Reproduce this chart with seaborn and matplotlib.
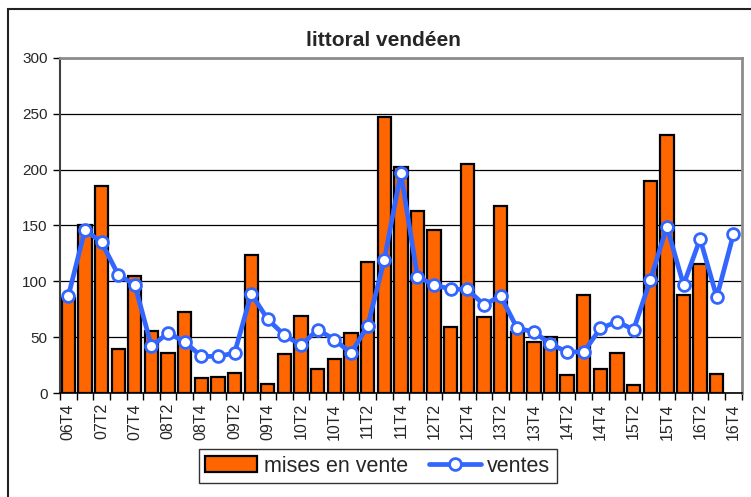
import numpy as np
import pandas as pd
import seaborn as sns
import matplotlib
matplotlib.use("Agg")
import matplotlib.pyplot as plt
from matplotlib.patches import Patch, Rectangle
from matplotlib.lines import Line2D

# quarters 06T4 .. 16T4
trimestres = ["06T4"] + [f"{y:02d}T{q}" for y in range(7, 17) for q in range(1, 5)]

mises_en_vente = [85, 150, 185, 40, 105, 56, 36, 73, 14, 15,
                  18, 124, 8, 35, 69, 22, 31, 54, 117, 247,
                  202, 163, 146, 59, 205, 68, 167, 55, 46, 50,
                  16, 88, 22, 36, 7, 190, 231, 88, 116, 17,
                  np.nan]

ventes = [87, 146, 135, 106, 97, 42, 54, 46, 33, 33,
          36, 89, 66, 52, 43, 57, 48, 36, 60, 119,
          197, 104, 97, 93, 93, 79, 87, 58, 55, 44,
          37, 37, 58, 64, 57, 101, 149, 97, 138, 86,
          142]

df = pd.DataFrame({"trimestre": trimestres,
                   "mises": mises_en_vente,
                   "ventes": ventes})
df["pos"] = df.index

sns.set_style("white")
plt.rcParams["font.family"] = ["Liberation Sans", "DejaVu Sans"]

W, H = 751, 497
fig = plt.figure(figsize=(W / 100, H / 100), dpi=100)
ax = fig.add_axes([60 / W, 1 - 393.3 / H, (741.7 - 60) / W, (393.3 - 57.7) / H])

# grid first so the bars sit on top
ax.set_axisbelow(True)
ax.yaxis.grid(True, color="black", linewidth=0.9)

orange = "#FF6600"
blue = "#3366FF"

sns.barplot(data=df, x="trimestre", y="mises", order=trimestres, color=orange,
            saturation=1, edgecolor="black", linewidth=1.6, width=0.8, ax=ax)
sns.lineplot(data=df, x="pos", y="ventes", color=blue, linewidth=3.4,
             marker="o", markersize=8.5, markerfacecolor="white",
             markeredgecolor=blue, markeredgewidth=2, ax=ax, zorder=5)

ax.set_xlim(-0.5, len(trimestres) - 0.5)
ax.set_ylim(0, 300)
ax.set_yticks(range(0, 301, 50))
ax.set_xlabel("")
ax.set_ylabel("")

ax.set_xticks(range(0, len(trimestres), 2))
ax.set_xticklabels(trimestres[::2], rotation=90)
ax.set_xticks(np.arange(-0.5, len(trimestres), 1), minor=True)
ax.tick_params(axis="x", which="major", length=0, pad=7, labelsize=11.5)
ax.tick_params(axis="x", which="minor", length=5, width=1, color="black",
               direction="out", bottom=True)
ax.tick_params(axis="y", length=5, width=1, color="black", direction="out",
               left=True, labelsize=11, pad=4)

for side in ["top", "right"]:
    ax.spines[side].set_color("#8c8c8c")
    ax.spines[side].set_linewidth(2)
ax.spines["left"].set_color("#404040")
ax.spines["left"].set_linewidth(1.5)
ax.spines["bottom"].set_color("black")
ax.spines["bottom"].set_linewidth(1.2)

fig.text(383 / W, 1 - 40 / H, "littoral vendéen", ha="center", va="center",
         fontsize=15, fontweight="bold")

handles = [Patch(facecolor=orange, edgecolor="black", linewidth=1.6),
           Line2D([0], [0], color=blue, linewidth=3.4, marker="o", markersize=8.5,
                  markerfacecolor="white", markeredgecolor=blue, markeredgewidth=2)]
leg = fig.legend(handles, ["mises en vente", "ventes"], loc="center",
                 bbox_to_anchor=(378 / W, 1 - 466 / H), bbox_transform=fig.transFigure,
                 ncol=2, fontsize=15.5, frameon=True, fancybox=False, shadow=False,
                 handlelength=2.4, handleheight=0.8, handletextpad=0.3,
                 columnspacing=1.0, borderpad=0.3, borderaxespad=0)
leg.get_frame().set_edgecolor("black")
leg.get_frame().set_linewidth(1)

# outer chart border (only top and left are inside the image)
fig.patches.append(Rectangle((8 / W, -0.1), 1.2, 1 - 9 / H + 0.1, fill=False,
                             edgecolor="#222222", linewidth=1.5,
                             transform=fig.transFigure, figure=fig))

fig.savefig("out.png", dpi=100)
